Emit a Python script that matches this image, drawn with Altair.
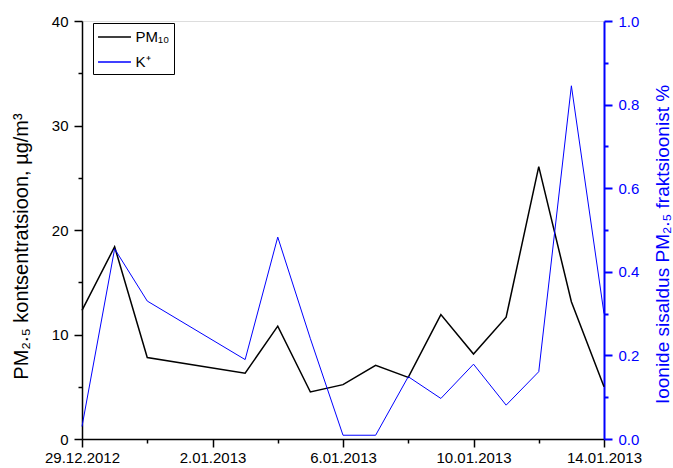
import altair as alt
import pandas as pd

# ---- data ----
dates = ["2012-12-29", "2012-12-30", "2012-12-31", "2013-01-03", "2013-01-04",
         "2013-01-05", "2013-01-06", "2013-01-07", "2013-01-08", "2013-01-09",
         "2013-01-10", "2013-01-11", "2013-01-12", "2013-01-13", "2013-01-14"]
pm10 = [12.3, 18.4, 7.8, 6.3, 10.8, 4.5, 5.2, 7.05, 5.9, 11.9, 8.13, 11.65, 26.06, 13.14, 5.0]
k_plus = [0.03, 0.455, 0.33, 0.19, 0.483, 0.24, 0.009, 0.009, 0.149, 0.097, 0.179, 0.081, 0.161, 0.845, 0.30]

series_names = ["PM₁₀", "K⁺"]
series_colors = ["#000000", "#0000FF"]

x_tick_dates = ["2012-12-29", "2012-12-31", "2013-01-02", "2013-01-04", "2013-01-06",
                "2013-01-08", "2013-01-10", "2013-01-12", "2013-01-14"]
left_ticks = [0, 5, 10, 15, 20, 25, 30, 35, 40]
right_ticks = [0.0, 0.1, 0.2, 0.3, 0.4, 0.5, 0.6, 0.7, 0.8, 0.9, 1.0]

left_title = "PM₂.₅ kontsentratsioon, µg/m³"
right_title = "Ioonide sisaldus PM₂.₅ fraktsioonist %"

n = len(dates)
df = pd.DataFrame({
    "date": dates * 2,
    "series": [series_names[0]] * n + [series_names[1]] * n,
    "value": pm10 + k_plus,
})

to_ms = lambda d: int(pd.Timestamp(d, tz="UTC").value // 10**6)
x_values = [to_ms(d) for d in x_tick_dates]
x_domain = [to_ms(dates[0]), to_ms(dates[-1])]

FONT = "Liberation Sans"
BLUE = "#0000FF"

major_x = "((datum.value - utc(2012,11,29)) / 86400000) % 4 === 0"

x_enc = alt.X(
    "date:T",
    scale=alt.Scale(type="utc", domain=x_domain),
    axis=alt.Axis(
        values=x_values,
        labelExpr=f"{major_x} ? utcFormat(datum.value, '%-d.%m.%Y') : ''",
        tickSize={"condition": {"test": major_x, "value": 8}, "value": 4},
        title=None, grid=False, labelFontSize=15, labelFont=FONT,
        labelColor="black", domainColor="black", tickColor="black",
        domainWidth=1.5, tickWidth=1.5, labelPadding=3, labelFlush=False,
        labelOverlap=False,
    ),
)

color_enc = alt.Color(
    "series:N",
    scale=alt.Scale(domain=series_names, range=series_colors),
    legend=alt.Legend(
        title=None, orient="none", legendX=11, legendY=2,
        strokeColor="black", fillColor="white", padding=4,
        symbolType="M-1.83,0H1.83", symbolSize=324, symbolOffset=7.5,
        symbolStrokeWidth=1.5, labelOffset=11, rowPadding=7,
        labelFontSize=15, labelFont=FONT, labelColor="black",
    ),
)

base = alt.Chart(df)

pm_layer = base.transform_filter(
    alt.datum.series == series_names[0]
).mark_line(strokeWidth=1.5).encode(
    x=x_enc,
    y=alt.Y(
        "value:Q",
        scale=alt.Scale(domain=[0, 40], nice=False, zero=True),
        axis=alt.Axis(
            orient="left", values=left_ticks,
            labelExpr="datum.value % 10 === 0 ? datum.label : ''",
            tickSize={"condition": {"test": "datum.value % 10 === 0", "value": 8}, "value": 4},
            grid=False, labelFontSize=15, labelFont=FONT, labelColor="black",
            domainColor="black", tickColor="black", domainWidth=1.5, tickWidth=1.5,
            labelPadding=6,
            title=left_title, titleFontSize=20, titleFont=FONT, titleFontWeight="normal",
            titleColor="black", titleAngle=270, titleAlign="center",
            titleBaseline="alphabetic", titleX=-55, titleY=225,
        ),
    ),
    color=color_enc,
)

k_layer = base.transform_filter(
    alt.datum.series == series_names[1]
).mark_line(strokeWidth=1.0).encode(
    x=x_enc,
    y=alt.Y(
        "value:Q",
        scale=alt.Scale(domain=[0, 1], nice=False, zero=True),
        axis=alt.Axis(
            orient="right", values=right_ticks, format=".1f",
            labelExpr="round(datum.value * 10) % 2 === 0 ? datum.label : ''",
            tickSize={"condition": {"test": "round(datum.value * 10) % 2 === 0", "value": 8}, "value": 4},
            grid=False, labelFontSize=15, labelFont=FONT, labelColor=BLUE,
            domainColor=BLUE, tickColor=BLUE, domainWidth=2, tickWidth=2,
            labelPadding=6,
            title=right_title, titleFontSize=19, titleFont=FONT, titleFontWeight="normal",
            titleColor=BLUE, titleAngle=270, titleAlign="center",
            titleBaseline="alphabetic", titleX=64, titleY=223,
        ),
    ),
    color=color_enc,
)

chart = alt.layer(pm_layer, k_layer).resolve_scale(
    y="independent"
).properties(
    width=522, height=418,
    autosize=alt.AutoSizeParams(type="none"),
    padding={"left": 82, "top": 21, "right": 69, "bottom": 29},
).configure_view(stroke=None).configure(font=FONT, background="white")

chart.save("out.html", embed_options={"renderer": "svg", "actions": False})
